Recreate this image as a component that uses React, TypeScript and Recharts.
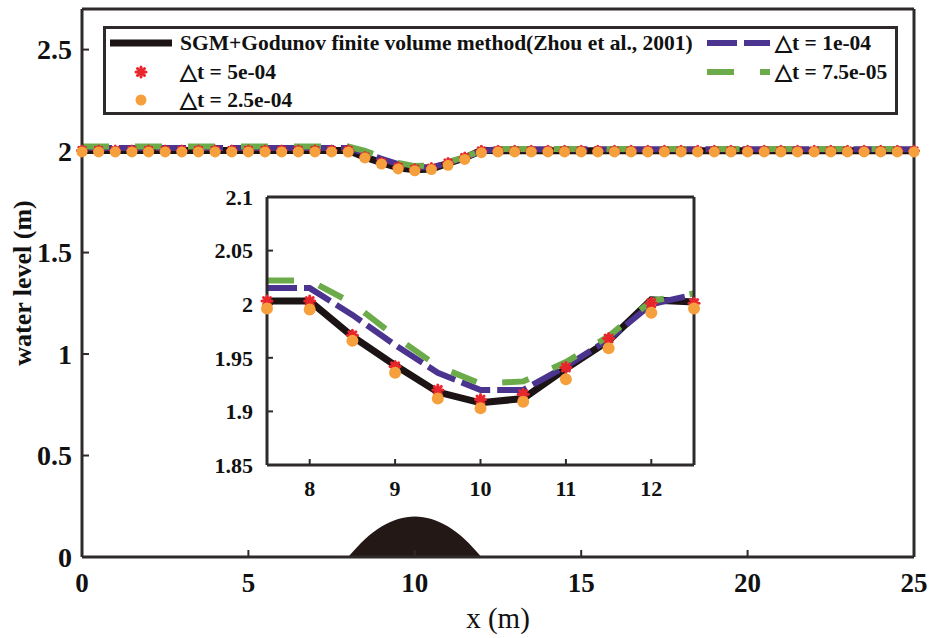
import React from 'react';
import { ComposedChart, Line, Area, XAxis, YAxis, Legend } from 'recharts';

// x positions of the computed cells (m)
const xs = [
  0, 0.5, 1, 1.5, 2, 2.5, 3, 3.5, 4, 4.5, 5, 5.5, 6, 6.5, 7, 7.5, 8, 8.5, 9, 9.5, 10,
  10.5, 11, 11.5, 12, 12.5, 13, 13.5, 14, 14.5, 15, 15.5, 16, 16.5, 17, 17.5, 18, 18.5,
  19, 19.5, 20, 20.5, 21, 21.5, 22, 22.5, 23, 23.5, 24, 24.5, 25,
];

// water level (m) for each series, one value per x above
const godunov = [
  2.003, 2.003, 2.003, 2.003, 2.003, 2.003, 2.003, 2.003, 2.003, 2.003, 2.003, 2.003, 2.003,
  2.003, 2.003, 2.003, 2.003, 1.97, 1.943, 1.918, 1.908, 1.912, 1.94, 1.966, 2.004,
  2.002, 2.002, 2.002, 2.002, 2.002, 2.002, 2.002, 2.002, 2.002, 2.002, 2.002, 2.002, 2.002,
  2.002, 2.002, 2.002, 2.002, 2.002, 2.002, 2.002, 2.002, 2.002, 2.002, 2.002, 2.002, 2.002,
];
const dt5e04 = [
  2.003, 2.003, 2.003, 2.003, 2.003, 2.003, 2.003, 2.003, 2.003, 2.003, 2.003, 2.003, 2.003,
  2.003, 2.003, 2.003, 2.003, 1.971, 1.942, 1.92, 1.911, 1.916, 1.941, 1.968, 2.001,
  2.001, 2.001, 2.001, 2.001, 2.001, 2.001, 2.001, 2.001, 2.001, 2.001, 2.001, 2.001, 2.001,
  2.001, 2.001, 2.001, 2.001, 2.001, 2.001, 2.001, 2.001, 2.001, 2.001, 2.001, 2.001, 2.001,
];
const dt25e04 = [
  1.996, 1.996, 1.996, 1.996, 1.996, 1.996, 1.996, 1.996, 1.996, 1.996, 1.996, 1.996, 1.996,
  1.996, 1.996, 1.996, 1.995, 1.966, 1.936, 1.912, 1.903, 1.909, 1.93, 1.959, 1.992,
  1.996, 1.996, 1.996, 1.996, 1.996, 1.996, 1.996, 1.996, 1.996, 1.996, 1.996, 1.996, 1.996,
  1.996, 1.996, 1.996, 1.996, 1.996, 1.996, 1.996, 1.996, 1.996, 1.996, 1.996, 1.996, 1.996,
];
const dt1e04 = [
  2.015, 2.015, 2.015, 2.015, 2.015, 2.015, 2.015, 2.015, 2.015, 2.015, 2.015, 2.015, 2.015,
  2.015, 2.015, 2.015, 2.015, 1.99, 1.962, 1.936, 1.92, 1.92, 1.942, 1.967, 2.0,
  2.009, 2.009, 2.009, 2.009, 2.009, 2.009, 2.009, 2.009, 2.009, 2.009, 2.009, 2.009, 2.009,
  2.009, 2.009, 2.009, 2.009, 2.009, 2.009, 2.009, 2.009, 2.009, 2.009, 2.009, 2.009, 2.009,
];
const dt75e05 = [
  2.022, 2.022, 2.022, 2.022, 2.022, 2.022, 2.022, 2.022, 2.022, 2.022, 2.022, 2.022, 2.022,
  2.022, 2.022, 2.022, 2.022, 2.001, 1.97, 1.942, 1.926, 1.928, 1.946, 1.97, 2.003,
  2.01, 2.01, 2.01, 2.01, 2.01, 2.01, 2.01, 2.01, 2.01, 2.01, 2.01, 2.01, 2.01,
  2.01, 2.01, 2.01, 2.01, 2.01, 2.01, 2.01, 2.01, 2.01, 2.01, 2.01, 2.01, 2.01,
];

// bed hump
const bedX = [8, 8.5, 9, 9.5, 10, 10.5, 11, 11.5, 12];
const bedZ = [0, 0.0875, 0.15, 0.1875, 0.2, 0.1875, 0.15, 0.0875, 0];

const mainXTicks = [0, 5, 10, 15, 20, 25];
const mainYTicks = [0, 0.5, 1, 1.5, 2, 2.5];
const insetXTicks = [8, 9, 10, 11, 12];
const insetYTicks = [1.85, 1.9, 1.95, 2, 2.05, 2.1];

const C = {
  black: '#1c1414',
  red: '#e8262c',
  orange: '#f5a03c',
  purple: '#4a348f',
  green: '#6bab4a',
  axis: '#2e2a2a',
  bed: '#231815',
};
const FONT = 'Liberation Serif';
const PURPLE_DASH = '30 7';
const GREEN_DASH = '27 26';

const toPts = (ys: number[]) => xs.map((x, i) => ({ x, y: ys[i] }));
const inInset = (p: { x: number }) => p.x >= 7.5 && p.x <= 12.5;
const bedPts = bedX.map((x, i) => ({ x, z: bedZ[i] }));

const axisLine = { stroke: C.axis, strokeWidth: 3 };
const tickLine = { stroke: C.axis, strokeWidth: 2 };

// tick label drawn by hand so the serif face is really used
const serifTick = (size: number, side: 'bottom' | 'left') => (props: any) => {
  const { x, y, payload, index } = props;
  return (
    <text key={`k${index}`} x={x} y={y} textAnchor={side === 'left' ? 'end' : 'middle'}
      dy={side === 'left' ? '0.35em' : '0.75em'} fontFamily={FONT} fontWeight="bold" fontSize={size} fill="#111">
      {payload.value}
    </text>
  );
};
const noTick = (props: any) => <g key={`n${props.index}`} />;

const Star = ({ cx, cy, s = 5 }: any) => {
  if (cx == null || cy == null) return null;
  return (
    <g stroke={C.red} strokeWidth={3} strokeLinecap="round">
      <line x1={cx - s} y1={cy} x2={cx + s} y2={cy} />
      <line x1={cx} y1={cy - s} x2={cx} y2={cy + s} />
      <line x1={cx - s * 0.7} y1={cy - s * 0.7} x2={cx + s * 0.7} y2={cy + s * 0.7} />
      <line x1={cx - s * 0.7} y1={cy + s * 0.7} x2={cx + s * 0.7} y2={cy - s * 0.7} />
    </g>
  );
};

const starDot = (s: number) => (props: any) => <Star key={`s${props.index}`} cx={props.cx} cy={props.cy} s={s} />;
const circleDot = (r: number) => (props: any) =>
  props.cx == null ? <g key={`c${props.index}`} /> : <circle key={`c${props.index}`} cx={props.cx} cy={props.cy} r={r} fill={C.orange} />;

const YLabel = ({ viewBox }: any) => {
  const cy = viewBox.y + viewBox.height / 2;
  return (
    <text x={22} y={cy} transform={`rotate(-90, 22, ${cy})`} textAnchor="middle" dominantBaseline="central"
      fontFamily={FONT} fontWeight="bold" fontSize={26} fill="#111">
      water level (m)
    </text>
  );
};

const XLabel = ({ viewBox }: any) => (
  <text x={viewBox.x + viewBox.width / 2} y={viewBox.y + 71} textAnchor="middle"
    fontFamily={FONT} fontSize={29} fill="#111">
    x (m)
  </text>
);

const legendLeft = [
  { name: 'SGM+Godunov finite volume method(Zhou et al., 2001)', kind: 'line' },
  { name: '\u25B3t = 5e-04', kind: 'star' },
  { name: '\u25B3t = 2.5e-04', kind: 'circle' },
];
const legendRight = [
  { name: '\u25B3t = 1e-04', color: C.purple, dash: PURPLE_DASH },
  { name: '\u25B3t = 7.5e-05', color: C.green, dash: GREEN_DASH },
];
const rowY = [14, 43, 71];

const LegendBox = () => {
  const textStyle: React.CSSProperties = {
    position: 'absolute', fontFamily: FONT, fontWeight: 'bold', fontSize: 21.5, lineHeight: '22px',
    color: '#111', whiteSpace: 'nowrap',
  };
  return (
    <div style={{ position: 'relative', width: 795, height: 89, boxSizing: 'border-box', border: `3px solid ${C.axis}`, background: '#fff' }}>
      <svg width={789} height={83} style={{ position: 'absolute', left: 0, top: 0 }}>
        {legendLeft.map((it, i) => {
          if (it.kind === 'line') return <line key={i} x1={4} x2={66} y1={rowY[i]} y2={rowY[i]} stroke={C.black} strokeWidth={7} />;
          if (it.kind === 'star') return <Star key={i} cx={35} cy={rowY[i]} s={5} />;
          return <circle key={i} cx={35} cy={rowY[i]} r={5.5} fill={C.orange} />;
        })}
        {legendRight.map((it, i) => (
          <line key={`r${i}`} x1={601} x2={664} y1={rowY[i]} y2={rowY[i]} stroke={it.color} strokeWidth={6} strokeDasharray={it.dash} />
        ))}
      </svg>
      {legendLeft.map((it, i) => (
        <div key={`t${i}`} style={{ ...textStyle, left: 74, top: rowY[i] - 11 }}>{it.name}</div>
      ))}
      {legendRight.map((it, i) => (
        <div key={`u${i}`} style={{ ...textStyle, left: 669, top: rowY[i] - 11 }}>{it.name}</div>
      ))}
    </div>
  );
};

const MainChart = () => (
  <ComposedChart width={934} height={638} margin={{ top: 8, right: 19, bottom: 0, left: 0 }}>
    <XAxis xAxisId="b" dataKey="x" type="number" domain={[0, 25]} ticks={mainXTicks} height={81}
      axisLine={axisLine} tickLine={tickLine} tickSize={-7} tickMargin={22}
      tick={serifTick(27, 'bottom')} label={<XLabel />} />
    <XAxis xAxisId="t" dataKey="x" type="number" orientation="top" domain={[0, 25]} ticks={mainXTicks} height={1}
      axisLine={axisLine} tickLine={tickLine} tickSize={-7} tick={noTick} />
    <YAxis yAxisId="l" type="number" domain={[0, 2.7]} ticks={mainYTicks} width={82}
      axisLine={axisLine} tickLine={tickLine} tickSize={-7} tickMargin={17}
      tick={serifTick(28, 'left')} label={<YLabel />} />
    <YAxis yAxisId="r" type="number" orientation="right" domain={[0, 2.7]} ticks={mainYTicks} width={1}
      axisLine={axisLine} tickLine={tickLine} tickSize={-7} tick={noTick} />
    <Area xAxisId="b" yAxisId="l" data={bedPts} dataKey="z" type="monotone" fill={C.bed} fillOpacity={1}
      stroke="none" isAnimationActive={false} />
    <Line xAxisId="b" yAxisId="l" data={toPts(godunov)} dataKey="y" stroke={C.black} strokeWidth={7}
      dot={false} activeDot={false} isAnimationActive={false} />
    <Line xAxisId="b" yAxisId="l" data={toPts(dt5e04)} dataKey="y" stroke="none"
      dot={starDot(4.5)} activeDot={false} isAnimationActive={false} />
    <Line xAxisId="b" yAxisId="l" data={toPts(dt25e04)} dataKey="y" stroke="none"
      dot={circleDot(5.5)} activeDot={false} isAnimationActive={false} />
    <Line xAxisId="b" yAxisId="l" data={toPts(dt1e04)} dataKey="y" stroke={C.purple} strokeWidth={6}
      strokeDasharray={PURPLE_DASH} dot={false} activeDot={false} isAnimationActive={false} />
    <Line xAxisId="b" yAxisId="l" data={toPts(dt75e05)} dataKey="y" stroke={C.green} strokeWidth={6}
      strokeDasharray={GREEN_DASH} dot={false} activeDot={false} isAnimationActive={false} />
    <Legend content={<LegendBox />} layout="horizontal" verticalAlign="middle" align="center"
      wrapperStyle={{ left: 103, top: 26, width: 795, height: 89 }} />
  </ComposedChart>
);

const InsetChart = () => (
  <ComposedChart width={520} height={330} margin={{ top: 16, right: 25, bottom: 0, left: 0 }}>
    <XAxis xAxisId="b" dataKey="x" type="number" domain={[7.5, 12.5]} ticks={insetXTicks} height={45}
      axisLine={axisLine} tickLine={tickLine} tickSize={-6} tickMargin={20}
      tick={serifTick(22, 'bottom')} />
    <XAxis xAxisId="t" dataKey="x" type="number" orientation="top" domain={[7.5, 12.5]} ticks={insetXTicks} height={1}
      axisLine={axisLine} tickLine={tickLine} tickSize={-6} tick={noTick} />
    <YAxis yAxisId="l" type="number" domain={[1.85, 2.1]} ticks={insetYTicks} width={67}
      axisLine={axisLine} tickLine={tickLine} tickSize={-6} tickMargin={20}
      tick={serifTick(22, 'left')} />
    <YAxis yAxisId="r" type="number" orientation="right" domain={[1.85, 2.1]} ticks={insetYTicks} width={1}
      axisLine={axisLine} tickLine={tickLine} tickSize={-6} tick={noTick} />
    <Line xAxisId="b" yAxisId="l" data={toPts(godunov).filter(inInset)} dataKey="y" stroke={C.black} strokeWidth={7}
      dot={false} activeDot={false} isAnimationActive={false} />
    <Line xAxisId="b" yAxisId="l" data={toPts(dt5e04).filter(inInset)} dataKey="y" stroke="none"
      dot={starDot(5)} activeDot={false} isAnimationActive={false} />
    <Line xAxisId="b" yAxisId="l" data={toPts(dt25e04).filter(inInset)} dataKey="y" stroke="none"
      dot={circleDot(6)} activeDot={false} isAnimationActive={false} />
    <Line xAxisId="b" yAxisId="l" data={toPts(dt1e04).filter(inInset)} dataKey="y" stroke={C.purple} strokeWidth={6}
      strokeDasharray={PURPLE_DASH} dot={false} activeDot={false} isAnimationActive={false} />
    <Line xAxisId="b" yAxisId="l" data={toPts(dt75e05).filter(inInset)} dataKey="y" stroke={C.green} strokeWidth={6}
      strokeDasharray={GREEN_DASH} dot={false} activeDot={false} isAnimationActive={false} />
  </ComposedChart>
);

export default function App() {
  return (
    <div style={{ position: 'absolute', left: 0, top: 0, width: 934, height: 638, background: '#fff' }}>
      <MainChart />
      <div style={{ position: 'absolute', left: 200, top: 180 }}>
        <InsetChart />
      </div>
    </div>
  );
}
